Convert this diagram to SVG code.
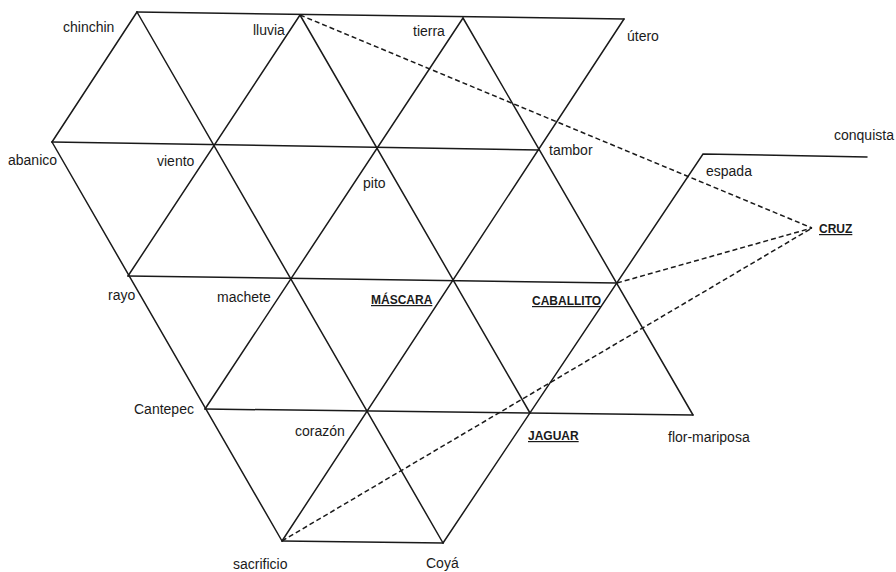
<svg xmlns="http://www.w3.org/2000/svg" width="896" height="572" viewBox="0 0 896 572">
<style>
.bg{fill:#ffffff}
.g{stroke:#1a1a1a;stroke-width:1.5;fill:none;stroke-linecap:round}
.d{stroke:#1a1a1a;stroke-width:1.5;fill:none;stroke-dasharray:5 3}
text{font-family:"Liberation Sans",Arial,sans-serif;fill:#1a1a1a}
.t{font-size:14px}
.b{font-size:12px;font-weight:bold;text-decoration:underline}
</style>
<rect class="bg" x="0" y="0" width="896" height="572"/>
<g id="connectors">
  <g id="grid">
    <line class="g" x1="137" y1="12" x2="624" y2="19"/>
    <line class="g" x1="52" y1="142" x2="539" y2="150"/>
    <line class="g" x1="128" y1="276" x2="617" y2="283"/>
    <line class="g" x1="205" y1="409" x2="693" y2="415"/>
    <line class="g" x1="282" y1="541" x2="443" y2="543"/>
    <line class="g" x1="52" y1="142" x2="282" y2="541"/>
    <line class="g" x1="137" y1="12" x2="443" y2="543"/>
    <line class="g" x1="300" y1="15" x2="530" y2="413"/>
    <line class="g" x1="463" y1="18" x2="693" y2="415"/>
    <line class="g" x1="137" y1="12" x2="52" y2="142"/>
    <line class="g" x1="300" y1="15" x2="128" y2="276"/>
    <line class="g" x1="463" y1="18" x2="205" y2="409"/>
    <line class="g" x1="624" y1="19" x2="282" y2="541"/>
    <polyline class="g" points="443,543 703,154 867,157"/>
  </g>
  <g id="dashed">
    <line class="d" x1="300" y1="15" x2="812" y2="228"/>
    <line class="d" x1="617" y1="283" x2="812" y2="228"/>
    <line class="d" x1="282" y1="541" x2="812" y2="228"/>
  </g>
</g>
<g id="chinchin"><text class="t" x="63" y="32">chinchin</text></g>
<g id="lluvia"><text class="t" x="253" y="35">lluvia</text></g>
<g id="tierra"><text class="t" x="413" y="36">tierra</text></g>
<g id="utero"><text class="t" x="627" y="41">útero</text></g>
<g id="abanico"><text class="t" x="8" y="165">abanico</text></g>
<g id="viento"><text class="t" x="157" y="166">viento</text></g>
<g id="pito"><text class="t" x="363" y="188">pito</text></g>
<g id="tambor"><text class="t" x="549" y="155">tambor</text></g>
<g id="conquista"><text class="t" x="834" y="140">conquista</text></g>
<g id="espada"><text class="t" x="706" y="176">espada</text></g>
<g id="cruz"><text class="b" x="819" y="233">CRUZ</text></g>
<g id="rayo"><text class="t" x="108" y="300">rayo</text></g>
<g id="machete"><text class="t" x="217" y="302">machete</text></g>
<g id="mascara"><text class="b" x="371" y="304">MÁSCARA</text></g>
<g id="caballito"><text class="b" x="532" y="305">CABALLITO</text></g>
<g id="cantepec"><text class="t" x="134" y="414">Cantepec</text></g>
<g id="corazon"><text class="t" x="295" y="436">corazón</text></g>
<g id="jaguar"><text class="b" x="528" y="440">JAGUAR</text></g>
<g id="flor-mariposa"><text class="t" x="668" y="442">flor-mariposa</text></g>
<g id="sacrificio"><text class="t" x="233" y="569">sacrificio</text></g>
<g id="coya"><text class="t" x="426" y="568">Coyá</text></g>
</svg>
